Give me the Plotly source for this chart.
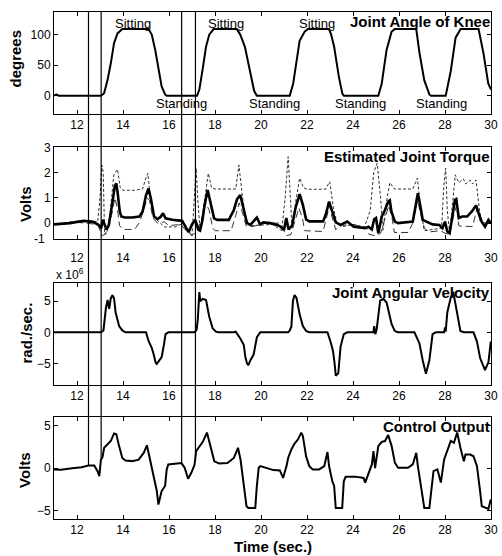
import numpy as np
import plotly.graph_objects as go
from plotly.subplots import make_subplots

# ---------------- data ----------------
knee_t = [11.0, 11.1, 11.2, 13.04, 13.18, 13.33, 13.47, 13.61, 13.76, 13.97, 15.11, 15.25, 15.4, 15.54, 15.68, 15.83, 15.9,
          17.22, 17.32, 17.47, 17.61, 17.75, 17.94, 18.95, 19.1, 19.3, 19.5, 19.7, 19.82,
          21.25, 21.4, 21.53, 21.68, 21.9, 22.04, 22.96, 23.05, 23.18, 23.39, 23.54, 23.61,
          25.1, 25.25, 25.46, 25.68, 25.82, 26.75, 26.89, 27.1, 27.32, 27.39,
          28.03, 28.25, 28.46, 28.68, 29.46, 29.67, 29.88, 30.0]
knee_v = [0, 2, 0, 0, 4, 26, 53, 86, 102, 109, 109, 100, 75, 45, 15, 2, 0,
          0, 10, 45, 80, 100, 109, 109, 100, 80, 45, 8, 0,
          0, 20, 50, 90, 105, 109, 109, 100, 80, 30, 3, 0,
          0, 20, 75, 105, 109, 109, 70, 25, 2, 0,
          0, 40, 95, 109, 109, 70, 20, 10]

torque_solid_t = [11.0, 11.4, 11.7, 12.0, 12.3, 12.7, 12.93, 13.05, 13.12, 13.2, 13.28, 13.38, 13.45, 13.57, 13.64, 13.71,
                  13.78, 13.86, 13.93, 14.07, 14.4, 14.71, 14.85, 15.0, 15.11, 15.21, 15.35, 15.5, 15.64, 15.74, 15.85,
                  16.14, 16.57, 16.71, 16.85, 17.0, 17.14, 17.28, 17.35, 17.45, 17.55, 17.68, 17.82, 17.96, 18.1, 18.6,
                  18.82, 18.96, 19.1, 19.24, 19.39, 19.54, 19.68, 19.82, 19.96, 20.1, 20.4, 20.7, 20.85, 21.0, 21.1,
                  21.2, 21.35, 21.5, 21.68, 21.82, 21.96, 22.1, 22.7, 22.82, 22.96, 23.1, 23.25, 23.46, 23.75, 24.03,
                  24.32, 24.53, 24.67, 24.82, 24.92, 25.0, 25.1, 25.25, 25.39, 25.53, 25.6, 25.67, 25.82, 25.96, 26.6,
                  26.75, 26.82, 26.92, 27.03, 27.46, 27.75, 27.89, 28.0, 28.1, 28.2, 28.32, 28.43, 28.49, 28.6, 28.74,
                  28.96, 29.17, 29.35, 29.46, 29.6, 29.74, 29.89, 30.0]
torque_solid_v = [-0.05, -0.03, 0.0, 0.05, 0.09, 0.05, -0.07, -0.2, 0.13, -0.05, -0.25, -0.1, 0.25, 1.0, 1.45, 1.57,
                  1.1, 0.45, 0.26, 0.22, 0.22, 0.26, 0.45, 1.1, 1.37, 0.98, 0.26, 0.16, 0.25, 0.39, 0.19,
                  0.13, 0.09, -0.14, -0.36, -0.05, 0.13, -0.27, -0.3, 0.1, 0.72, 1.31, 0.72, 0.19, 0.13, 0.13,
                  0.52, 0.95, 1.11, 0.59, 0.0, -0.07, 0.08, 0.22, -0.05, 0.03, 0.0, -0.07, -0.14, -0.27, 0.2,
                  -0.25, -0.1, 0.6, 1.15, 0.72, 0.15, 0.07, 0.07, 0.35, 0.85, 0.46, 0.03, -0.07, 0.06, -0.14,
                  -0.18, -0.2, -0.14, -0.25, 0.15, 0.2, -0.4, 0.26, 0.52, 0.85, 0.9, 0.46, 0.06, 0.0, 0.06,
                  0.85, 1.18, 0.72, 0.13, -0.05, -0.07, -0.2, 0.06, -0.33, -0.4, 0.26, 0.92, 0.95, 0.2, 0.26,
                  0.26, 0.46, 0.7, 0.4, 0.05, -0.14, 0.13, 0.0]

torque_dash_t = [11.0, 12.0, 12.9, 13.0, 13.1, 13.2, 13.35, 13.5, 13.65, 13.75, 13.85, 14.0, 14.5, 14.7, 14.9, 15.05,
                 15.15, 15.3, 15.5, 15.8, 16.0, 16.5, 16.8, 17.0, 17.2, 17.4, 17.6, 17.75, 17.9, 18.0, 18.7, 18.9,
                 19.05, 19.2, 19.35, 19.5, 19.8, 20.0, 20.8, 21.0, 21.1, 21.3, 21.5, 21.65, 21.8, 21.9, 22.7, 22.85,
                 22.98, 23.1, 23.25, 23.4, 24.0, 24.6, 24.7, 25.0, 25.2, 25.4, 25.55, 25.7, 25.8, 26.4, 26.6, 26.8,
                 26.95, 27.1, 27.3, 27.8, 28.0, 28.2, 28.35, 28.5, 28.6, 28.7, 29.2, 29.3, 29.4, 29.55, 29.7, 30.0]
torque_dash_v = [-0.05, 0.03, -0.05, -0.3, -0.5, -0.45, -0.2, 0.3, 1.0, 0.6, -0.1, -0.25, -0.25, 0.0, 0.5, 1.0,
                 0.9, 0.2, 0.0, 0.05, -0.1, -0.05, -0.35, -0.5, -0.3, 0.1, 0.8, 0.5, -0.2, -0.3, -0.3, 0.3,
                 0.8, 0.4, -0.1, -0.15, -0.1, 0.0, 0.0, -0.3, -0.5, -0.45, 0.1, 0.6, 0.2, -0.3, -0.33, 0.2,
                 0.7, 0.2, -0.26, -0.1, -0.05, -0.2, -0.45, -0.5, -0.4, 0.2, 0.7, 0.2, -0.37, -0.37, 0.0, 0.9,
                 0.3, -0.2, -0.35, -0.3, -0.4, -0.45, 0.2, 0.7, -0.1, -0.13, -0.13, 0.3, 0.6, 0.0, 0.0, 0.05]

torque_dot_t = [11.0, 11.7, 12.5, 12.9, 13.0, 13.08, 13.14, 13.2, 13.3, 13.45, 13.6, 13.76, 13.88, 14.0, 14.5, 14.85,
                15.0, 15.08, 15.2, 15.35, 15.5, 15.8, 16.3, 16.6, 16.85, 17.0, 17.1, 17.18, 17.25, 17.35, 17.5, 17.71,
                17.85, 18.0, 18.9, 19.04, 19.2, 19.35, 19.6, 20.5, 20.9, 21.05, 21.18, 21.28, 21.35, 21.5, 21.68,
                21.85, 22.0, 22.8, 22.99, 23.15, 23.3, 23.5, 24.0, 24.5, 24.75, 24.9, 25.05, 25.2, 25.3, 25.45, 25.6,
                25.8, 26.6, 26.8, 26.95, 27.1, 27.5, 27.85, 27.95, 28.03, 28.1, 28.2, 28.35, 28.45, 28.6, 28.8,
                28.9, 29.1, 29.2, 29.35, 29.5, 29.6, 30.0]
torque_dot_v = [-0.05, 0.05, 0.1, 0.05, 1.0, 2.3, 2.0, -0.45, -0.4, 0.5, 1.9, 2.13, 1.4, 1.3, 1.3, 1.35,
                1.8, 1.97, 0.9, 0.3, 0.1, -0.15, -0.15, 0.0, -0.3, -0.5, 1.0, 2.17, 1.0, -0.3, 0.6, 1.97,
                1.4, 1.35, 1.35, 2.3, 1.0, 0.1, -0.1, -0.05, -0.3, 1.0, 2.63, 1.0, -0.2, 0.8, 1.78,
                1.4, 1.34, 1.34, 1.64, 0.6, 0.0, -0.15, -0.05, -0.15, 0.5, 2.0, 2.37, 1.0, -0.3, 0.8, 1.6,
                1.35, 1.35, 1.78, 0.5, -0.3, -0.25, -0.2, 1.5, 2.17, 0.5, -0.4, 1.0, 1.91, 1.6, 1.75,
                1.55, 1.7, 1.55, 1.71, 0.5, 0.0, 0.1]

vel_t = [11.0, 13.04, 13.15, 13.26, 13.33, 13.4, 13.47, 13.54, 13.61, 13.68, 13.83, 13.97, 14.11, 14.8, 14.9, 15.0,
         15.11, 15.25, 15.33, 15.42, 15.47, 15.54, 15.68, 15.78, 15.85, 15.97, 17.11, 17.2, 17.25, 17.32, 17.36,
         17.47, 17.61, 17.75, 17.9, 18.04, 18.15, 18.82, 18.9, 19.1, 19.25, 19.32, 19.39, 19.45, 19.54, 19.68,
         19.82, 19.97, 21.18, 21.25, 21.32, 21.39, 21.46, 21.54, 21.68, 21.82, 21.96, 22.1, 22.89, 23.03, 23.13,
         23.2, 23.25, 23.36, 23.46, 23.6, 23.75, 24.89, 24.92, 24.97, 25.03, 25.18, 25.32, 25.46, 25.68, 25.82,
         25.95, 26.67, 26.89, 27.03, 27.17, 27.32, 27.46, 27.6, 27.96, 28.0, 28.03, 28.1, 28.25, 28.36, 28.53,
         28.67, 28.82, 29.24, 29.39, 29.53, 29.74, 29.89, 29.99]
vel_v = [0.0, 0.0, 0.3, 4.0, 5.2, 3.8, 5.5, 6.0, 5.5, 3.2, 1.0, 0.3, 0.0, 0.0, 0.1, 0.0,
         -1.4, -2.5, -3.5, -4.9, -5.1, -4.7, -4.0, -2.0, -0.3, 0.0, 0.0, 0.4, 2.0, 6.5, 5.0,
         5.4, 5.2, 2.5, 0.6, 0.1, 0.0, 0.0, 0.1, -1.0, -2.0, -4.0, -5.0, -5.3, -4.5, -3.6,
         -0.8, 0.0, 0.0, 0.3, 0.9, 5.1, 6.0, 5.6, 2.9, 1.0, 0.2, 0.0, 0.0, -1.6, -3.0,
         -5.0, -7.0, -6.6, -2.3, -0.3, 0.0, 0.0, 1.0, -0.3, 0.5, 5.1, 5.4, 4.8, 1.3, 0.2,
         0.0, 0.0, -1.8, -4.5, -6.7, -4.5, -0.3, 0.0, 0.0, 0.8, 0.1, 3.2, 5.6, 6.5, 3.2,
         0.2, 0.0, 0.0, -1.5, -4.2, -6.1, -4.8, -1.5]

ctrl_t = [11.0, 11.3, 11.8, 12.2, 12.5, 12.75, 12.9, 12.97, 13.04, 13.11, 13.18, 13.33, 13.47, 13.61, 13.71, 13.83,
          13.97, 14.11, 14.4, 14.68, 14.9, 15.04, 15.11, 15.23, 15.33, 15.47, 15.54, 15.61, 15.68, 15.83, 15.9,
          15.97, 16.25, 16.54, 16.68, 16.83, 16.97, 17.11, 17.18, 17.32, 17.47, 17.65, 17.82, 17.97, 18.18, 18.54,
          18.82, 19.0, 19.11, 19.25, 19.37, 19.45, 19.75, 19.82, 19.9, 19.97, 20.25, 20.54, 20.82, 20.96, 21.11,
          21.18, 21.32, 21.46, 21.61, 21.75, 21.82, 21.96, 22.1, 22.25, 22.53, 22.75, 22.89, 22.96, 23.1, 23.18,
          23.25, 23.53, 23.6, 23.68, 24.1, 24.46, 24.53, 24.68, 24.82, 24.89, 24.96, 25.1, 25.25, 25.39, 25.53,
          25.68, 25.82, 25.96, 26.39, 26.6, 26.75, 26.82, 26.96, 27.1, 27.32, 27.42, 27.5, 27.67, 27.82, 27.96,
          28.1, 28.25, 28.39, 28.53, 28.67, 28.82, 28.89, 29.1, 29.24, 29.39, 29.53, 29.6, 29.89, 29.99]
ctrl_v = [-0.15, -0.2, 0.0, 0.1, 0.3, 0.3, -0.4, -0.94, 1.0, 1.3, 2.4, 2.8, 3.2, 4.1, 4.0, 2.6,
          1.2, 0.9, 0.83, 1.0, 1.8, 2.7, 1.8, 0.25, -1.3, -2.7, -4.3, -3.5, -2.7, -2.1, -0.15,
          0.44, 0.55, 0.6, 0.05, -1.26, -0.55, 0.4, 2.0, 2.6, 3.1, 4.2, 2.2, 0.8, 0.55, 0.6,
          1.2, 2.4, 1.0, -2.1, -4.5, -4.7, -4.7, -2.1, 0.04, 0.24, 0.04, -0.23, -0.27, -1.15, 0.24,
          1.2, 2.2, 2.9, 3.4, 4.2, 3.8, 1.4, 0.24, -0.15, -0.15, 0.24, 1.9, 0.24, -1.55, -2.1,
          -4.7, -4.7, -1.55, -1.0, -1.0, -1.15, -1.7, -0.55, 0.44, 2.0, 0.0, 2.6, 3.1, 3.2, 3.9,
          2.6, 0.64, 0.04, 0.04, 0.44, 1.8, 0.24, -2.1, -4.7, -4.7, -2.1, -0.35, -0.15, -1.7, 1.0,
          2.2, 3.2, 3.0, 4.2, 2.4, 0.8, 1.6, 1.6, 1.4, 0.24, -2.8, -4.5, -4.8, -3.7]

event_times = [12.5, 13.05, 16.55, 17.15]

sit_x = [14.45, 18.48, 22.43]
stand_x = [16.55, 20.57, 24.32, 27.85]

x_ticks = [12, 14, 16, 18, 20, 22, 24, 26, 28, 30]
x_range = [11, 30]
y_ranges = [[-30, 137], [-0.64, 3], [-8.5, 8], [-6, 6]]
y_ticks = [[0, 50, 100], [0, 1, 2, 3], [-5, 0, 5], [-5, 0, 5]]
domains = [[0.7988, 1.0], [0.5517, 0.7331], [0.2643, 0.4661], [0.0, 0.2006]]
panel_titles = ["Joint Angle of Knee", "Estimated Joint Torque", "Joint Angular Velocity", "Control Output"]
y_titles = ["degrees", "Volts", "rad./sec.", "Volts"]
y_title_pos = [0.544, 0.384, 0.503, 0.483]
y_title_shift = [-38, -28, -27, -29]

FONT = "Liberation Sans, Arial, sans-serif"

fig = make_subplots(rows=4, cols=1)

fig.add_trace(go.Scatter(x=knee_t, y=knee_v, mode="lines", line=dict(color="black", width=2)), row=1, col=1)
fig.add_trace(go.Scatter(x=torque_dot_t, y=torque_dot_v, mode="lines",
                         line=dict(color="#333333", width=1, dash="3px,2px")), row=2, col=1)
fig.add_trace(go.Scatter(x=torque_dash_t, y=torque_dash_v, mode="lines",
                         line=dict(color="#333333", width=1, dash="7px,4px")), row=2, col=1)
fig.add_trace(go.Scatter(x=torque_solid_t, y=torque_solid_v, mode="lines", line=dict(color="black", width=2.6)), row=2, col=1)
fig.add_trace(go.Scatter(x=vel_t, y=vel_v, mode="lines", line=dict(color="black", width=2)), row=3, col=1)
fig.add_trace(go.Scatter(x=ctrl_t, y=ctrl_v, mode="lines", line=dict(color="black", width=2)), row=4, col=1)

for i in range(4):
    n = "" if i == 0 else str(i + 1)
    fig.layout["xaxis" + n].update(
        range=x_range, domain=[0, 1], tickvals=x_ticks, ticks="inside", ticklen=4,
        showline=True, linecolor="black", linewidth=1, mirror="ticks", showgrid=False, zeroline=False,
        tickfont=dict(family=FONT, size=12, color="black"), tickcolor="black",
        ticklabeloverflow="allow", ticklabelstandoff=(7 if i == 1 else 0))
    fig.layout["yaxis" + n].update(
        range=y_ranges[i], domain=domains[i], tickvals=y_ticks[i], ticks="inside", ticklen=4,
        showline=True, linecolor="black", linewidth=1, mirror="ticks", showgrid=False, zeroline=False,
        tickfont=dict(family=FONT, size=12, color="black"), tickcolor="black")
    fig.add_annotation(text="<b>%s</b>" % panel_titles[i], xref="x%s domain" % n, yref="y%s domain" % n,
                       x=1, y=1, xanchor="right", yanchor="top", showarrow=False, xshift=1, yshift=1,
                       font=dict(family=FONT, size=15, color="black"))
    fig.add_annotation(text="<b>%s</b>" % y_titles[i], xref="paper", yref="y%s domain" % n,
                       x=0, y=y_title_pos[i], xshift=y_title_shift[i], textangle=-90, showarrow=False,
                       xanchor="center", yanchor="middle", font=dict(family=FONT, size=15, color="black"))

# bottom label "-1" of torque panel
fig.add_annotation(text="-1", xref="paper", yref="y2 domain", x=0, y=0, xanchor="right", yanchor="middle",
                   xshift=-7, showarrow=False, font=dict(family=FONT, size=12, color="black"))
# exponent label
fig.add_annotation(text="x 10<sup>6</sup>", xref="x3 domain", yref="y3 domain", x=0, y=1, xanchor="left",
                   yanchor="bottom", yshift=-1, showarrow=False, font=dict(family=FONT, size=12, color="black"))

for sx in sit_x:
    fig.add_annotation(text="Sitting", x=sx, y=117.5, xref="x", yref="y", showarrow=False,
                       font=dict(family=FONT, size=13, color="black"))
for sx in stand_x:
    fig.add_annotation(text="Standing", x=sx, y=-13.6, xref="x", yref="y", showarrow=False,
                       font=dict(family=FONT, size=13, color="black"))

fig.add_annotation(text="<b>Time (sec.)</b>", xref="paper", yref="paper", x=0.5, y=0, yshift=-27,
                   xanchor="center", yanchor="middle", showarrow=False, font=dict(family=FONT, size=15, color="black"))

# event lines: from the top of the knee panel down to the control-output curve
r4 = y_ranges[3]
d4 = domains[3]
for et in event_times:
    cv = float(np.interp(et, ctrl_t, ctrl_v))
    yb = d4[0] + (cv - r4[0]) / (r4[1] - r4[0]) * (d4[1] - d4[0])
    fig.add_shape(type="line", xref="x", yref="paper", x0=et, x1=et, y0=yb, y1=domains[0][1],
                  line=dict(color="black", width=1.2))

fig.update_layout(width=502, height=556, margin=dict(l=54, r=4, t=12, b=37),
                  plot_bgcolor="white", paper_bgcolor="white", showlegend=False)

fig.write_html("out.html")
